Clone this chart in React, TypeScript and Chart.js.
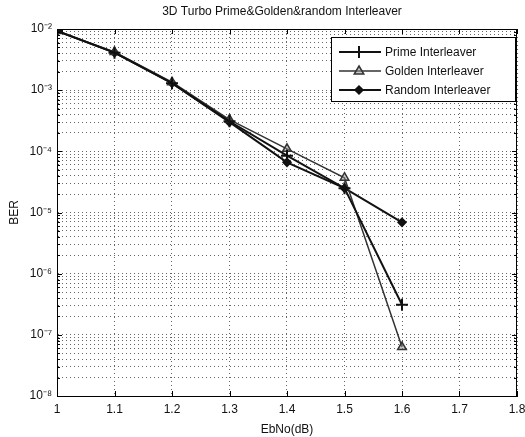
import React, { useEffect, useRef } from "react";
import { Chart, registerables } from "chart.js";

Chart.register(...registerables);

const ebno = [1, 1.1, 1.2, 1.3, 1.4, 1.5, 1.6];
const primeBER = [9.3e-3, 4.1e-3, 1.3e-3, 3.1e-4, 8.5e-5, 2.5e-5, 3.1e-7];
const goldenBER = [9.3e-3, 4.2e-3, 1.35e-3, 3.3e-4, 1.1e-4, 3.7e-5, 6.3e-8];
const randomBER = [9.3e-3, 4.1e-3, 1.3e-3, 3.0e-4, 6.6e-5, 2.5e-5, 6.9e-6];
const seriesNames = ["Prime Interleaver", "Golden Interleaver", "Random Interleaver"];
const xTicks = [1, 1.1, 1.2, 1.3, 1.4, 1.5, 1.6, 1.7, 1.8];
const titleText = "3D Turbo Prime&Golden&random Interleaver";

const SUP: Record<string, string> = { "-": "\u207B", "0": "\u2070", "1": "\u00B9", "2": "\u00B2", "3": "\u00B3", "4": "\u2074", "5": "\u2075", "6": "\u2076", "7": "\u2077", "8": "\u2078", "9": "\u2079" };
const sup = (s: string) => s.split("").map((c) => SUP[c] || c).join("");

const FONT = "'Liberation Sans', Arial, sans-serif";

function drawMarker(ctx: CanvasRenderingContext2D, ds: any, x: number, y: number) {
  const r = ds.pointRadius;
  ctx.save();
  ctx.strokeStyle = ds.pointBorderColor;
  ctx.fillStyle = ds.pointBackgroundColor;
  ctx.lineWidth = ds.pointBorderWidth;
  ctx.beginPath();
  if (ds.pointStyle === "cross") {
    ctx.moveTo(x - r, y); ctx.lineTo(x + r, y);
    ctx.moveTo(x, y - r); ctx.lineTo(x, y + r);
    ctx.stroke();
  } else if (ds.pointStyle === "triangle") {
    ctx.moveTo(x, y - r);
    ctx.lineTo(x + r * 0.95, y + r * 0.6);
    ctx.lineTo(x - r * 0.95, y + r * 0.6);
    ctx.closePath();
    ctx.fill(); ctx.stroke();
  } else {
    ctx.moveTo(x, y - r); ctx.lineTo(x + r, y); ctx.lineTo(x, y + r); ctx.lineTo(x - r, y);
    ctx.closePath();
    ctx.fill(); ctx.stroke();
  }
  ctx.restore();
}

export default function App() {
  const ref = useRef<HTMLCanvasElement | null>(null);
  useEffect(() => {
    document.body.style.margin = "0";
    const canvas = ref.current!;
    const boxPlugin = {
      id: "boxAndLegend",
      afterDraw(chart: any) {
        const { ctx, chartArea: a } = chart;
        ctx.save();
        ctx.strokeStyle = "#000";
        ctx.lineWidth = 1;
        ctx.setLineDash([]);
        ctx.strokeRect(a.left + 0.5, a.top + 0.5, a.right - a.left - 1, a.bottom - a.top);
        const ys = chart.scales.y, xs = chart.scales.x;
        ctx.beginPath();
        ys.ticks.forEach((t: any) => {
          const py = Math.round(ys.getPixelForValue(t.value)) + 0.5;
          const len = t.major ? 5 : 3;
          ctx.moveTo(a.left, py); ctx.lineTo(a.left + len, py);
          ctx.moveTo(a.right, py); ctx.lineTo(a.right - len, py);
        });
        xs.ticks.forEach((t: any) => {
          const px = Math.round(xs.getPixelForValue(t.value)) + 0.5;
          ctx.moveTo(px, a.bottom); ctx.lineTo(px, a.bottom - 5);
          ctx.moveTo(px, a.top); ctx.lineTo(px, a.top + 5);
        });
        ctx.stroke();
        ctx.fillStyle = "#111";
        ctx.font = "12px " + FONT;
        ctx.textAlign = "center";
        ctx.textBaseline = "middle";
        ctx.fillText(titleText, (a.left + a.right) / 2 - 5, 12);
        const lx = 331, ly = 37, lw = 184, lh = 64;
        ctx.fillStyle = "#fff";
        ctx.fillRect(lx, ly, lw, lh);
        ctx.strokeStyle = "#000";
        ctx.lineWidth = 1;
        ctx.strokeRect(lx + 0.5, ly + 0.5, lw, lh);
        chart.data.datasets.forEach((ds: any, i: number) => {
          const y = ly + 15 + i * 19;
          ctx.strokeStyle = ds.borderColor;
          ctx.lineWidth = ds.borderWidth;
          ctx.beginPath();
          ctx.moveTo(lx + 8, y);
          ctx.lineTo(lx + 50, y);
          ctx.stroke();
          drawMarker(ctx, ds, lx + 28, y);
          ctx.fillStyle = "#111";
          ctx.font = "12px " + FONT;
          ctx.textAlign = "left";
          ctx.textBaseline = "middle";
          ctx.fillText(ds.label, lx + 54, y + 1);
        });
        ctx.restore();
      },
    };
    const chart = new Chart(canvas, {
      type: "line",
      data: {
        labels: ebno,
        datasets: [
          {
            label: seriesNames[0],
            data: ebno.map((x, i) => ({ x, y: primeBER[i] })),
            borderColor: "#111",
            backgroundColor: "#111",
            borderWidth: 2,
            pointStyle: "cross",
            pointRadius: 6,
            pointBorderWidth: 2,
            pointBorderColor: "#111",
            pointBackgroundColor: "#111",
          },
          {
            label: seriesNames[1],
            data: ebno.map((x, i) => ({ x, y: goldenBER[i] })),
            borderColor: "#333",
            backgroundColor: "#333",
            borderWidth: 1.5,
            pointStyle: "triangle",
            pointRadius: 5,
            pointBorderWidth: 1.5,
            pointBorderColor: "#333",
            pointBackgroundColor: "rgba(150,150,150,0.5)",
          },
          {
            label: seriesNames[2],
            data: ebno.map((x, i) => ({ x, y: randomBER[i] })),
            borderColor: "#111",
            backgroundColor: "#111",
            borderWidth: 2,
            pointStyle: "rectRot",
            pointRadius: 4,
            pointBorderWidth: 1.5,
            pointBorderColor: "#111",
            pointBackgroundColor: "#111",
          },
        ],
      },
      options: {
        animation: false,
        responsive: false,
        layout: { padding: { top: 29, right: 0, left: 0, bottom: 0 } },
        plugins: {
          legend: { display: false },
          title: { display: false },
          tooltip: { enabled: false },
        },
        scales: {
          x: {
            type: "linear",
            min: 1,
            max: 1.8,
            afterBuildTicks(scale: any) {
              scale.ticks = xTicks.map((v) => ({ value: v }));
            },
            afterFit(scale: any) {
              scale.height = 41;
              scale.paddingRight = 0;
            },
            ticks: {
              autoSkip: false,
              maxRotation: 0,
              padding: 6,
              color: "#111",
              font: { family: FONT, size: 12 },
              callback: (v: any) => String(Math.round(Number(v) * 10) / 10),
            },
            grid: {
              color: "#666",
              lineWidth: 1,
              drawTicks: false,
            },
            border: { display: true, color: "#000", dash: [1, 3] },
            title: {
              display: true,
              text: "EbNo(dB)",
              color: "#111",
              font: { family: FONT, size: 12 },
              padding: { top: 0, bottom: 0 },
            },
          },
          y: {
            type: "logarithmic",
            min: 1e-8,
            max: 1e-2,
            afterBuildTicks(scale: any) {
              const t: any[] = [];
              for (let e = -8; e <= -2; e++) {
                for (let m = 1; m <= 9; m++) {
                  const v = m * Math.pow(10, e);
                  if (e === -2 && m > 1) break;
                  t.push({ value: v, major: m === 1 });
                }
              }
              scale.ticks = t;
            },
            afterFit(scale: any) {
              scale.width = 57;
            },
            ticks: {
              autoSkip: false,
              padding: 5,
              color: "#111",
              font: { family: FONT, size: 12 },
              callback: (v: any) => {
                const e = Math.log10(Number(v));
                if (Math.abs(e - Math.round(e)) < 1e-6) return "10" + sup(String(Math.round(e)));
                return "";
              },
            },
            grid: {
              color: "#666",
              lineWidth: 1,
              drawTicks: false,
            },
            border: { display: true, color: "#000", dash: [1, 3] },
            title: {
              display: true,
              text: "BER",
              color: "#111",
              font: { family: FONT, size: 12 },
              padding: { top: 7, bottom: 0 },
            },
          },
        },
      } as any,
      plugins: [boxPlugin],
    });
    return () => chart.destroy();
  }, []);
  return (
    <div style={{ width: 525, height: 437, background: "#fff" }}>
      <canvas ref={ref} width={525} height={437} style={{ width: 525, height: 437, display: "block" }} />
    </div>
  );
}
